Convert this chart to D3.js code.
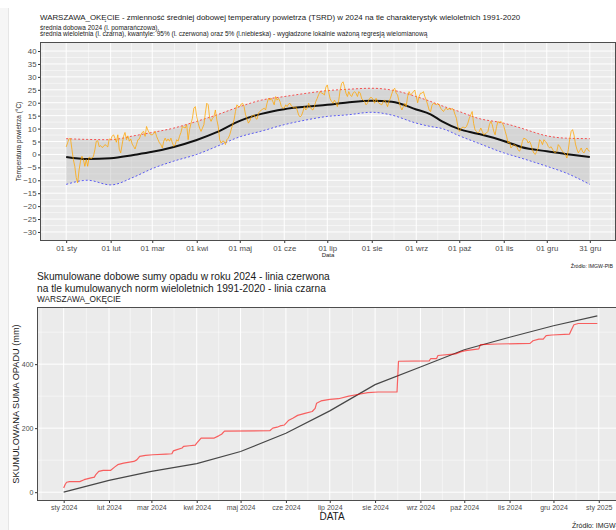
<!DOCTYPE html>
<html>
<head>
<meta charset="utf-8">
<script src="https://cdn.jsdelivr.net/npm/d3@7/dist/d3.min.js"></script>
<style>
	body { margin: 0; background: #ffffff; }
	svg { display: block; font-family: "Liberation Sans", Arial, sans-serif; }
</style>
</head>
<body>
<svg id="chart" width="616" height="530"></svg>
<script>

/* TEMPERATURA 2024 - srednia dobowa (TSRD), po miesiacach */
var tsrd_Sty = [2.9,4.5,6.1,6.1,2,-2,-4.6,-9,-11,-6,-2.6,-0.7,-2,-4.6,-2,-4.6,-1,-1.5,-1.5,-0.7,1.8,5.1,5.3,3,3.4,2.7,3.0,3.8,3.4,2.9,6.0];
var tsrd_Lut = [5.7,7,7.6,6.3,4.7,7.6,2,0.6,3.8,7,8.5,5.7,7.2,5.1,6,4,3.1,2.1,3.8,5.7,6,7.6,8.5,8.9,7,10.8,9.3,8.3,7.6];
var tsrd_Mar = [7.6,8,8.9,7,5.7,4.5,3.8,2.5,5.1,6.3,5.1,6,5.1,6.3,4.5,3.1,3.8,5.7,5.1,7,8.5,10.8,10.5,10.2,11.5,5.7,9.6,12,14,17.9,18.5];
var tsrd_Kwi = [14.6,12.1,10.2,8.9,10.2,11.5,16,19.8,19.2,14,12.8,14,14.6,17.2,13.4,10.8,5.7,4.4,5.1,5.1,3.8,5.7,6.3,7.6,9.6,11.5,13.4,16.6,19.2,18.5];
var tsrd_Maj = [18.5,19.5,19.8,18.5,15.4,14,12.1,13,14.6,15,15.3,14,13.6,16,16.6,17.2,17.5,17.9,17.2,19.8,21.7,21,21.7,20.5,19.2,22.4,21,21.7,20.5,18.5,17.9];
var tsrd_Cze = [17.9,19.2,18.5,19.5,19.8,18.8,18.2,17.9,18.5,17.2,15.3,14.5,15,16.5,18.5,17.2,17.9,19.8,18.5,17.5,17.2,18.5,20.5,21.7,23.2,24.3,23.7,23.5,23,26];
var tsrd_Lip = [26.9,24,21.5,20.5,19.8,21,20,18.5,21,25,27.5,28.1,26.2,23.7,22.4,24.3,23,22.4,23.7,24.3,23.7,22.4,24.3,23.7,21.5,21.1,20.5,19.2,19.8,21.1,22];
var tsrd_Sie = [22,21.1,19.8,21.7,20.5,19.8,19.5,19.2,20.5,21.1,19.8,18.5,20.5,21.7,23.5,25,25.6,23.7,23,20.5,18.5,17.2,18.5,19.8,18.5,22.4,24.3,23,23.5,24.3,24.9];
var tsrd_Wrz = [22.4,20,22.4,23.7,23.7,24.3,22.4,21,19.2,17.2,16.6,19,19.8,19.5,19.2,19.8,19.2,17.9,17.2,16.6,17.5,17.9,17.2,17.9,17.2,17.9,17.2,15.5,14,10.8];
var tsrd_Paz = [8.9,9.6,10.5,10.5,10.2,10.8,12.1,14,15.3,16.6,12,9.5,8.9,8.3,8.9,10.2,8.9,7.6,8,8.3,8.9,11.5,12.8,11.5,9,7.6,10.8,12.8,12.1,12.8,12.1];
var tsrd_Lis = [11,9,7,4.4,5.1,2.5,3.1,3.8,3.5,3.1,1.8,1.2,2.5,5.1,6.3,6,5.7,4.4,5.1,3.8,1.8,0.5,0,1.2,2.5,5.7,5.1,3.8,5.7,5];
var tsrd_Gru = [4.4,3.1,2.5,3,2,1,0.6,1.2,3.8,3.1,2,1.2,0.5,0,-1.4,1.8,6,8.9,9.6,7.5,4,2,0.6,1.5,2.5,1,0.6,1.8,2.5,1.5,1.2];

/* CHARAKTERYSTYKI WIELOLETNIE 1991-2020 (dzien roku od 1 sty) */
var klimat_Dni = [0,15,31,47,60,75,91,105,121,136,152,168,182,196,213,227,244,254,262,274,287,305,317,335,348,365];
var klimat_Srednia = [-1.0,-1.8,-1.5,-0.2,1.0,2.9,5.6,8.6,13.0,15.7,17.5,18.5,19.2,20.1,20.8,20.4,17.4,15.5,12.8,9.8,8.0,5.2,2.9,1.2,0.2,-1.0];
var klimat_Q95 = [6.1,5.8,5.7,7.2,8.5,10.2,12.8,15.3,18.5,21.0,22.4,23.7,24.7,25.2,25.6,24.9,22.4,20.5,18.8,16.6,14.0,12.1,10.2,7.2,6.3,6.1];
var klimat_Q05 = [-11.6,-10.0,-11.8,-8.8,-5.5,-2.6,0.0,3.1,6.8,9.0,11.5,13.4,14.7,15.3,16.3,15.2,12.1,10.8,10.0,7.2,4.4,0.6,-1.4,-4.6,-7.1,-11.6];

/* OSIE - wykres temperatury */
var temp_Ticks = [40,35,30,25,20,15,10,5,0,-5,-10,-15,-20,-25,-30];
var temp_Daty = ["2024-01-01","2024-02-01","2024-03-01","2024-04-01","2024-05-01","2024-06-01","2024-07-01",
				 "2024-08-01","2024-09-01","2024-10-01","2024-11-01","2024-12-01","2024-12-31"];
var temp_Etykiety = ["01 sty","01 lut","01 mar","01 kwi","01 maj","01 cze","01 lip","01 sie","01 wrz","01 paź","01 lis","01 gru","31 gru"];

/* OPAD - suma skumulowana 2024 (dzien roku, mm) */
var opad_Dni = [0,1,2,4,11,14,18,21,22,24,27,32,35,37,41,44,48,50,52,56,61,70,74,75,77,81,82,86,90,91,94,103,106,108,110,
				141,143,146,148,151,154,157,160,165,170,172,173,176,182,188,195,202,208,215,228,229,250,251,255,256,268,
				272,275,284,285,297,319,321,325,328,330,334,346,347,349,352,365];
var opad_Suma = [13,24,31,33,33,39,44,47,55,65,68,68,79,86,91,93,96,101,112,115,117,119,120,129,132,138,143,145,147,153,169,169,176,181,191,
				 192,200,203,207,210,225,232,240,246,252,262,278,285,290,292,300,306,311,313,313,409,410,417,417,427,432,
				 439,442,448,461,463,465,473,478,478,489,491,494,504,523,527,527];

/* OPAD - norma wieloletnia 1991-2020, skumulowana */
var norma_Dni = [0,31,60,91,121,152,182,213,244,274,305,335,365];
var norma_Suma = [0,37,65,89,127,184,254,336,391,445,484,520,551];

/* OSIE - wykres opadu */
var opad_Ticks = [0,200,400];
var opad_Minor = [100,300,500];
var opad_Daty = ["2024-01-01","2024-02-01","2024-03-01","2024-04-01","2024-05-01","2024-06-01","2024-07-01",
				 "2024-08-01","2024-09-01","2024-10-01","2024-11-01","2024-12-01","2025-01-01"];
var opad_Etykiety = ["sty 2024","lut 2024","mar 2024","kwi 2024","maj 2024","cze 2024","lip 2024",
					 "sie 2024","wrz 2024","paź 2024","lis 2024","gru 2024","sty 2025"];


var svg = d3.select("#chart");
var parse_Date = d3.timeParse("%Y-%m-%d");
var start_2024 = new Date(2024, 0, 1);
var day_Of = function(d){ return d3.timeDay.offset(start_2024, d); };

/* lewy pasek ramki strony */
svg.append("rect").attr("x", 0).attr("y", 8).attr("width", 8).attr("height", 522).attr("fill", "#f6f6f6");
svg.append("line").attr("x1", 8.5).attr("x2", 8.5).attr("y1", 8).attr("y2", 530).attr("stroke", "#e6e6e6");

/*
	Name:		draw_Grid
	Operations:	1) panel background
				2) major and minor white lines from the scales
*/
function draw_Grid(g, panel, x, y, x_Major, x_Minor, y_Major, y_Minor){

	g.append("rect").attr("x", panel.left).attr("y", panel.top)
					.attr("width", panel.right - panel.left)
					.attr("height", panel.bottom - panel.top)
					.attr("fill", "#ebebeb");

	g.selectAll(".y_Minor").data(y_Minor).enter().append("line")
		.attr("x1", panel.left).attr("x2", panel.right)
		.attr("y1", function(d){ return y(d); }).attr("y2", function(d){ return y(d); })
		.attr("stroke", "#ffffff").attr("stroke-width", 0.5);

	g.selectAll(".x_Minor").data(x_Minor).enter().append("line")
		.attr("y1", panel.top).attr("y2", panel.bottom)
		.attr("x1", function(d){ return x(d); }).attr("x2", function(d){ return x(d); })
		.attr("stroke", "#ffffff").attr("stroke-width", 0.5);

	g.selectAll(".y_Major").data(y_Major).enter().append("line")
		.attr("x1", panel.left).attr("x2", panel.right)
		.attr("y1", function(d){ return y(d); }).attr("y2", function(d){ return y(d); })
		.attr("stroke", "#ffffff").attr("stroke-width", 1);

	g.selectAll(".x_Major").data(x_Major).enter().append("line")
		.attr("y1", panel.top).attr("y2", panel.bottom)
		.attr("x1", function(d){ return x(d); }).attr("x2", function(d){ return x(d); })
		.attr("stroke", "#ffffff").attr("stroke-width", 1);
}

/* minor breaks: midpoints between date breaks (ggplot style) */
function mid_Dates(dates, x){
	var out = [];
	var dom = x.domain();
	for(var i = 0; i < dates.length - 1; i++){
		out.push(new Date((dates[i].getTime() + dates[i+1].getTime()) / 2));
	}
	var step_0 = dates[1] - dates[0];
	var step_N = dates[dates.length-1] - dates[dates.length-2];
	var before = new Date(dates[0].getTime() - step_0 / 2);
	var after = new Date(dates[dates.length-1].getTime() + step_N / 2);
	if(before >= dom[0]) out.push(before);
	if(after <= dom[1]) out.push(after);
	return out;
}


/* ================= WYKRES 1: TEMPERATURA ================= */

var temp_Panel = {left: 40, right: 616, top: 42, bottom: 241};

var tsrd_All = [].concat(tsrd_Sty, tsrd_Lut, tsrd_Mar, tsrd_Kwi, tsrd_Maj, tsrd_Cze,
						 tsrd_Lip, tsrd_Sie, tsrd_Wrz, tsrd_Paz, tsrd_Lis, tsrd_Gru);
var tsrd_Data = tsrd_All.map(function(v, i){ return {date: day_Of(i), value: v}; });

var klimat_Data = klimat_Dni.map(function(d, i){
	return {date: day_Of(d), mean: klimat_Srednia[i], q95: klimat_Q95[i], q05: klimat_Q05[i]};
});

/* 5% expansion, as in ggplot */
var temp_Span = 365;
var x_Temp = d3.scaleTime()
	.domain([d3.timeHour.offset(day_Of(0), -temp_Span * 24 * 0.05), d3.timeHour.offset(day_Of(365), temp_Span * 24 * 0.05)])
	.range([temp_Panel.left, temp_Panel.right]);

var y_Temp = d3.scaleLinear()
	.domain([-30 - 3.5, 40 + 3.5])
	.range([temp_Panel.bottom, temp_Panel.top]);

var temp_Dates = temp_Daty.map(parse_Date);
var temp_Minor = [];
for(var t = 0; t < temp_Ticks.length - 1; t++) temp_Minor.push((temp_Ticks[t] + temp_Ticks[t+1]) / 2);

var g_Temp = svg.append("g");
draw_Grid(g_Temp, temp_Panel, x_Temp, y_Temp, temp_Dates, mid_Dates(temp_Dates, x_Temp), temp_Ticks, temp_Minor);

svg.append("clipPath").attr("id", "clip_Temp").append("rect")
	.attr("x", temp_Panel.left).attr("y", temp_Panel.top)
	.attr("width", temp_Panel.right - temp_Panel.left).attr("height", temp_Panel.bottom - temp_Panel.top);

var g_Temp_Data = g_Temp.append("g").attr("clip-path", "url(#clip_Temp)");

/* pasmo kwantyli 5% - 95% */
g_Temp_Data.append("path").datum(klimat_Data)
	.attr("d", d3.area().curve(d3.curveMonotoneX)
					.x(function(d){ return x_Temp(d.date); })
					.y0(function(d){ return y_Temp(d.q05); })
					.y1(function(d){ return y_Temp(d.q95); }))
	.attr("fill", "#b3b3b3").attr("fill-opacity", 0.4);

var klimat_Line = function(key){
	return d3.line().curve(d3.curveMonotoneX)
				.x(function(d){ return x_Temp(d.date); })
				.y(function(d){ return y_Temp(d[key]); });
};

g_Temp_Data.append("path").datum(klimat_Data)
	.attr("d", klimat_Line("q95"))
	.attr("fill", "none").attr("stroke", "#ff0000").attr("stroke-opacity", 0.65)
	.attr("stroke-width", 1).attr("stroke-dasharray", "2,2");

g_Temp_Data.append("path").datum(klimat_Data)
	.attr("d", klimat_Line("q05"))
	.attr("fill", "none").attr("stroke", "#0000ff").attr("stroke-opacity", 0.6)
	.attr("stroke-width", 1).attr("stroke-dasharray", "2,2");

g_Temp_Data.append("path").datum(klimat_Data)
	.attr("d", klimat_Line("mean"))
	.attr("fill", "none").attr("stroke", "#111111").attr("stroke-width", 2);

g_Temp_Data.append("path").datum(tsrd_Data)
	.attr("d", d3.line()
				.x(function(d){ return x_Temp(d.date); })
				.y(function(d){ return y_Temp(d.value); }))
	.attr("fill", "none").attr("stroke", "#ffa500").attr("stroke-opacity", 0.75)
	.attr("stroke-width", 1).attr("stroke-linejoin", "round");

/* ramka panelu */
g_Temp.append("rect")
	.attr("x", temp_Panel.left + 0.5).attr("y", temp_Panel.top + 0.5)
	.attr("width", temp_Panel.right - temp_Panel.left - 1).attr("height", temp_Panel.bottom - temp_Panel.top - 1)
	.attr("fill", "none").attr("stroke", "#4d4d4d").attr("stroke-width", 1);

/* osie */
var ax_Temp_Y = g_Temp.append("g").attr("transform", "translate(" + temp_Panel.left + ",0)")
	.call(d3.axisLeft(y_Temp).tickValues(temp_Ticks).tickSize(2).tickPadding(1.5).tickFormat(d3.format("d")));
var ax_Temp_X = g_Temp.append("g").attr("transform", "translate(0," + temp_Panel.bottom + ")")
	.call(d3.axisBottom(x_Temp).tickValues(temp_Dates).tickSize(2).tickPadding(2)
			.tickFormat(function(d, i){ return temp_Etykiety[i]; }));

[ax_Temp_Y, ax_Temp_X].forEach(function(ax){
	ax.select(".domain").remove();
	ax.selectAll(".tick line").attr("stroke", "#333333");
	ax.selectAll(".tick text").attr("fill", "#4d4d4d").style("font-size", "7.8px").style("font-family", "Liberation Sans, Arial, sans-serif");
});

/* tytuly */
svg.append("text").attr("x", 40).attr("y", 19.5)
	.style("font-size", "7.9px").attr("fill", "#1a1a1a")
	.text("WARSZAWA_OKĘCIE - zmienność średniej dobowej temperatury powietrza (TSRD) w 2024 na tle charakterystyk wieloletnich 1991-2020");
svg.append("text").attr("x", 40).attr("y", 29.5)
	.style("font-size", "6.5px").attr("fill", "#1a1a1a")
	.text("średnia dobowa 2024 (l. pomarańczowa),");
svg.append("text").attr("x", 40).attr("y", 36.2)
	.style("font-size", "6.5px").attr("fill", "#1a1a1a")
	.text("średnia wieloletnia (l. czarna), kwantyle: 95% (l. czerwona) oraz 5% (l.niebieska) - wygładzone lokalnie ważoną regresją wielomianową");

svg.append("text")
	.attr("transform", "translate(21," + ((temp_Panel.top + temp_Panel.bottom) / 2) + ") rotate(-90)")
	.attr("text-anchor", "middle").style("font-size", "6.5px").attr("fill", "#1a1a1a")
	.text("Temperatura powietrza (°C)");
svg.append("text").attr("x", (temp_Panel.left + temp_Panel.right) / 2).attr("y", 257)
	.attr("text-anchor", "middle").style("font-size", "6px").attr("fill", "#1a1a1a")
	.text("Data");
svg.append("text").attr("x", 613).attr("y", 268)
	.attr("text-anchor", "end").style("font-size", "5.2px").attr("fill", "#1a1a1a")
	.text("Źródło: IMGW-PIB");


/* ================= WYKRES 2: OPAD ================= */

var opad_Panel = {left: 37, right: 624, top: 307, bottom: 501};

var opad_Data = opad_Dni.map(function(d, i){ return {date: day_Of(d), value: opad_Suma[i]}; });
var norma_Data = norma_Dni.map(function(d, i){ return {date: day_Of(d), value: norma_Suma[i]}; });

var opad_Span = 365;
var x_Opad = d3.scaleTime()
	.domain([d3.timeHour.offset(day_Of(0), -opad_Span * 24 * 0.05), d3.timeHour.offset(day_Of(365), opad_Span * 24 * 0.05)])
	.range([opad_Panel.left, opad_Panel.right]);

var opad_Max = d3.max(norma_Suma.concat(opad_Suma));
var y_Opad = d3.scaleLinear()
	.domain([-opad_Max * 0.05, opad_Max * 1.05])
	.range([opad_Panel.bottom, opad_Panel.top]);

var opad_Dates = opad_Daty.map(parse_Date);

var g_Opad = svg.append("g");

draw_Grid(g_Opad, opad_Panel, x_Opad, y_Opad, opad_Dates, mid_Dates(opad_Dates, x_Opad), opad_Ticks, opad_Minor);

g_Opad.append("path").datum(norma_Data)
	.attr("d", d3.line()
				.x(function(d){ return x_Opad(d.date); })
				.y(function(d){ return y_Opad(d.value); }))
	.attr("fill", "none").attr("stroke", "#000000").attr("stroke-opacity", 0.7).attr("stroke-width", 1.2);

g_Opad.append("path").datum(opad_Data)
	.attr("d", d3.line()
				.x(function(d){ return x_Opad(d.date); })
				.y(function(d){ return y_Opad(d.value); }))
	.attr("fill", "none").attr("stroke", "#ff0000").attr("stroke-opacity", 0.6)
	.attr("stroke-width", 1.2).attr("stroke-linejoin", "round");

g_Opad.append("rect")
	.attr("x", opad_Panel.left + 0.5).attr("y", opad_Panel.top + 0.5)
	.attr("width", opad_Panel.right - opad_Panel.left - 1).attr("height", opad_Panel.bottom - opad_Panel.top - 1)
	.attr("fill", "none").attr("stroke", "#4d4d4d").attr("stroke-width", 1);

var ax_Opad_Y = g_Opad.append("g").attr("transform", "translate(" + opad_Panel.left + ",0)")
	.call(d3.axisLeft(y_Opad).tickValues(opad_Ticks).tickSize(2).tickPadding(1.5).tickFormat(d3.format("d")));
var ax_Opad_X = g_Opad.append("g").attr("transform", "translate(0," + opad_Panel.bottom + ")")
	.call(d3.axisBottom(x_Opad).tickValues(opad_Dates).tickSize(2).tickPadding(2)
			.tickFormat(function(d, i){ return opad_Etykiety[i]; }));

[ax_Opad_Y, ax_Opad_X].forEach(function(ax){
	ax.select(".domain").remove();
	ax.selectAll(".tick line").attr("stroke", "#333333");
	ax.selectAll(".tick text").attr("fill", "#4d4d4d").style("font-size", "7px").style("font-family", "Liberation Sans, Arial, sans-serif");
});

svg.append("text").attr("x", 37).attr("y", 280)
	.style("font-size", "10.2px").attr("fill", "#1a1a1a")
	.text("Skumulowane dobowe sumy opadu w roku 2024 - linia czerwona");
svg.append("text").attr("x", 37).attr("y", 291.5)
	.style("font-size", "10.2px").attr("fill", "#1a1a1a")
	.text("na tle kumulowanych norm wieloletnich 1991-2020 - linia czarna");
svg.append("text").attr("x", 37).attr("y", 302)
	.style("font-size", "8.3px").attr("fill", "#1a1a1a")
	.text("WARSZAWA_OKĘCIE");

svg.append("text")
	.attr("transform", "translate(19," + ((opad_Panel.top + opad_Panel.bottom) / 2) + ") rotate(-90)")
	.attr("text-anchor", "middle").style("font-size", "9.2px").attr("fill", "#1a1a1a")
	.text("SKUMULOWANA SUMA OPADU (mm)");
svg.append("text").attr("x", 332).attr("y", 520)
	.attr("text-anchor", "middle").style("font-size", "10px").attr("fill", "#1a1a1a")
	.text("DATA");
svg.append("text").attr("x", 572).attr("y", 528)
	.style("font-size", "7px").attr("fill", "#1a1a1a")
	.text("Źródło: IMGW-PIB");

</script>
</body>
</html>
